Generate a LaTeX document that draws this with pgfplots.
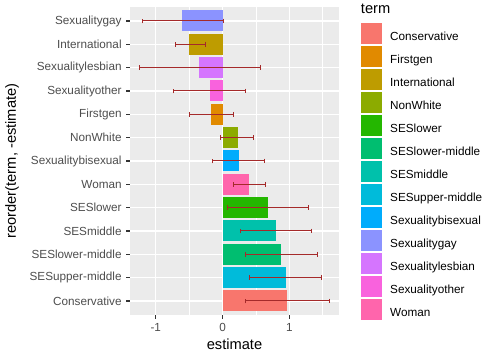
\documentclass[border=0pt]{standalone}
\usepackage{fontspec}
\setmainfont{Liberation Sans}
\usepackage{pgfplots}
\pgfplotsset{compat=1.18}
\usepackage{pgfplotstable}

\definecolor{cCons}{HTML}{F8766D}
\definecolor{cFirst}{HTML}{E18A00}
\definecolor{cIntl}{HTML}{BE9C00}
\definecolor{cNonW}{HTML}{8CAB00}
\definecolor{cSESl}{HTML}{24B700}
\definecolor{cSESlm}{HTML}{00BE70}
\definecolor{cSESm}{HTML}{00C1AB}
\definecolor{cSESum}{HTML}{00BBDA}
\definecolor{cBi}{HTML}{00ACFC}
\definecolor{cGay}{HTML}{8B93FF}
\definecolor{cLes}{HTML}{D575FE}
\definecolor{cOth}{HTML}{F962DD}
\definecolor{cWom}{HTML}{FF65AC}
\definecolor{panelbg}{HTML}{EBEBEB}
\definecolor{tickc}{HTML}{333333}
\definecolor{labc}{HTML}{4D4D4D}
\definecolor{errc}{HTML}{A52A2A}

\pgfplotstableread{
term y est lo hi
Conservative 0 0.962 0.336 1.600
SESupper-middle 1 0.947 0.406 1.480
SESlower-middle 2 0.872 0.336 1.420
SESmiddle 3 0.797 0.270 1.330
SESlower 4 0.677 0.080 1.290
Woman 5 0.390 0.170 0.640
Sexualitybisexual 6 0.240 -0.145 0.627
NonWhite 7 0.226 -0.025 0.470
Firstgen 8 -0.180 -0.490 0.160
Sexualityother 9 -0.195 -0.730 0.340
Sexualitylesbian 10 -0.346 -1.243 0.566
International 11 -0.496 -0.700 -0.260
Sexualitygay 12 -0.600 -1.200 0.010
}\coefs

\pgfplotsset{
  mybar/.style={xbar, bar width=0.9, bar shift=0pt, draw=none,
    legend image code/.code={\fill[##1] (0pt,-4.7pt) rectangle (15.75pt,11.05pt);}},
}

\begin{document}
\begin{tikzpicture}
\path (0,0) rectangle (372.75pt,-270pt);
\begin{axis}[
  at={(97.5pt,-5.25pt)}, anchor=north west,
  scale only axis, width=156.75pt, height=231pt,
  xmin=-1.385, xmax=1.742, ymin=-0.6, ymax=12.6,
  axis background/.style={fill=panelbg},
  axis line style={draw=none},
  tick align=outside, tick pos=left,
  major tick length=2.75pt, minor tick length=0pt,
  tick style={color=tickc, line width=1.07pt},
  xtick={-1,0,1}, xticklabels={-1,0,1},
  minor xtick={-1.5,-0.5,0.5,1.5},
  xmajorgrids, xminorgrids, ymajorgrids,
  major grid style={white, line width=1.07pt},
  minor grid style={white, line width=0.53pt},
  ytick={0,...,12},
  yticklabels={Conservative,SESupper-middle,SESlower-middle,SESmiddle,SESlower,Woman,Sexualitybisexual,NonWhite,Firstgen,Sexualityother,Sexualitylesbian,International,Sexualitygay},
  ticklabel style={font=\fontsize{8.8}{10}\selectfont, text=labc},
  /pgf/number format/assume math mode=true,
  xlabel={estimate},
  ylabel={reorder(term, -estimate)},
  label style={font=\fontsize{11}{13}\selectfont, text=black},
  xlabel style={at={(axis description cs:0.5,0)}, anchor=base, yshift=-26.25pt},
  ylabel style={at={(axis description cs:-0.5646,0.5)}, anchor=center},
  legend style={at={(1.1038,0.949)}, anchor=north west, draw=none, fill=none,
    inner sep=0pt, row sep=1.5pt, column sep=6.2pt,
    font=\fontsize{8.8}{10}\selectfont, nodes={inner sep=0pt}},
  legend cell align=left,
]
\addplot[mybar, fill=cCons] coordinates {(0.962,0)};
\addlegendentry{Conservative}
\addplot[mybar, fill=cFirst] coordinates {(-0.180,8)};
\addlegendentry{Firstgen}
\addplot[mybar, fill=cIntl] coordinates {(-0.496,11)};
\addlegendentry{International}
\addplot[mybar, fill=cNonW] coordinates {(0.226,7)};
\addlegendentry{NonWhite}
\addplot[mybar, fill=cSESl] coordinates {(0.677,4)};
\addlegendentry{SESlower}
\addplot[mybar, fill=cSESlm] coordinates {(0.872,2)};
\addlegendentry{SESlower-middle}
\addplot[mybar, fill=cSESm] coordinates {(0.797,3)};
\addlegendentry{SESmiddle}
\addplot[mybar, fill=cSESum] coordinates {(0.947,1)};
\addlegendentry{SESupper-middle}
\addplot[mybar, fill=cBi] coordinates {(0.240,6)};
\addlegendentry{Sexualitybisexual}
\addplot[mybar, fill=cGay] coordinates {(-0.600,12)};
\addlegendentry{Sexualitygay}
\addplot[mybar, fill=cLes] coordinates {(-0.346,10)};
\addlegendentry{Sexualitylesbian}
\addplot[mybar, fill=cOth] coordinates {(-0.195,9)};
\addlegendentry{Sexualityother}
\addplot[mybar, fill=cWom] coordinates {(0.390,5)};
\addlegendentry{Woman}
\addplot[forget plot, draw=none, mark=none,
  error bars/.cd, x dir=both, x explicit, error mark=|,
  error bar style={draw=errc, line width=0.75pt},
  error mark options={draw=errc, line width=0.75pt, mark size=1.75pt}]
  table[x=est, y=y,
    x error plus expr=\thisrow{hi}-\thisrow{est},
    x error minus expr=\thisrow{est}-\thisrow{lo}] {\coefs};
\end{axis}
\node[anchor=base west, font=\fontsize{11}{13}\selectfont, inner sep=0pt] at (270.5pt,-10pt) {term};
\end{tikzpicture}
\end{document}
